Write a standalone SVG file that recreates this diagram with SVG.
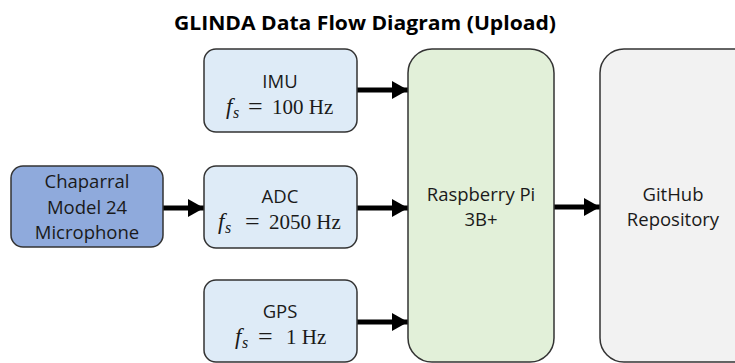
<svg xmlns="http://www.w3.org/2000/svg" width="735" height="363" viewBox="0 0 735 363">
<style>
.box{stroke:#333;stroke-width:1.5}
.sensor{fill:#DEEBF7}
.mic{fill:#8FAADC}
.pi{fill:#E2F0D9}
.gh{fill:#F2F2F2}
.t{font-family:"Open Sans","Liberation Sans",sans-serif;font-size:18.5px;fill:#1a1a1a;text-anchor:middle}
.m{font-family:"Liberation Serif","DejaVu Serif",serif;font-size:21px;fill:#1a1a1a}
.i{font-style:italic;font-size:23px}
.sub{font-style:italic;font-size:16px}
.eq{font-size:26px}
.title{font-family:"Open Sans","Liberation Sans",sans-serif;font-size:20px;font-weight:bold;fill:#000;text-anchor:middle}
.conn{stroke:#000;stroke-width:5;fill:none;marker-end:url(#ah)}
</style>
<defs>
<marker id="ah" markerUnits="userSpaceOnUse" markerWidth="18" markerHeight="18" refX="16" refY="9" orient="auto">
<path d="M0,0 L16,9 L0,18 Z" fill="#000"/>
</marker>
</defs>
<rect width="735" height="363" fill="#fff"/>
<text class="title" x="365" y="30" textLength="382" lengthAdjust="spacingAndGlyphs">GLINDA Data Flow Diagram (Upload)</text>
<g id="connectors">
<line class="conn" x1="357" y1="90" x2="408" y2="90"/>
<line class="conn" x1="163" y1="208" x2="204" y2="208"/>
<line class="conn" x1="357" y1="208" x2="408" y2="208"/>
<line class="conn" x1="357" y1="322" x2="408" y2="322"/>
<line class="conn" x1="554" y1="207" x2="600" y2="207"/>
</g>
<g id="mic">
<rect class="box mic" x="11" y="166" width="152" height="81" rx="12"/>
<text class="t" x="87" y="188">Chaparral</text>
<text class="t" x="87" y="214">Model 24</text>
<text class="t" x="87" y="239">Microphone</text>
</g>
<g id="imu">
<rect class="box sensor" x="204" y="49" width="153" height="83" rx="12"/>
<text class="t" x="280" y="88">IMU</text>
<text class="m i" x="226" y="114">f</text>
<text class="m sub" x="233" y="118">s</text>
<text class="m eq" x="248" y="115">=</text>
<text class="m" x="272" y="114">100 Hz</text>
</g>
<g id="adc">
<rect class="box sensor" x="204" y="166" width="153" height="82" rx="12"/>
<text class="t" x="280" y="203">ADC</text>
<text class="m i" x="218" y="229">f</text>
<text class="m sub" x="225" y="233">s</text>
<text class="m eq" x="245" y="230">=</text>
<text class="m" x="269" y="229">2050 Hz</text>
</g>
<g id="gps">
<rect class="box sensor" x="204" y="280" width="153" height="82" rx="12"/>
<text class="t" x="280" y="318">GPS</text>
<text class="m i" x="235" y="344">f</text>
<text class="m sub" x="242" y="348">s</text>
<text class="m eq" x="258" y="345">=</text>
<text class="m" x="286" y="344">1 Hz</text>
</g>
<g id="pi">
<rect class="box pi" x="408" y="49" width="146" height="313" rx="24"/>
<text class="t" x="481" y="201">Raspberry Pi</text>
<text class="t" x="481" y="226">3B+</text>
</g>
<g id="github">
<rect class="box gh" x="600" y="49" width="160" height="313" rx="24"/>
<text class="t" x="673" y="201">GitHub</text>
<text class="t" x="673" y="226">Repository</text>
</g>
</svg>
